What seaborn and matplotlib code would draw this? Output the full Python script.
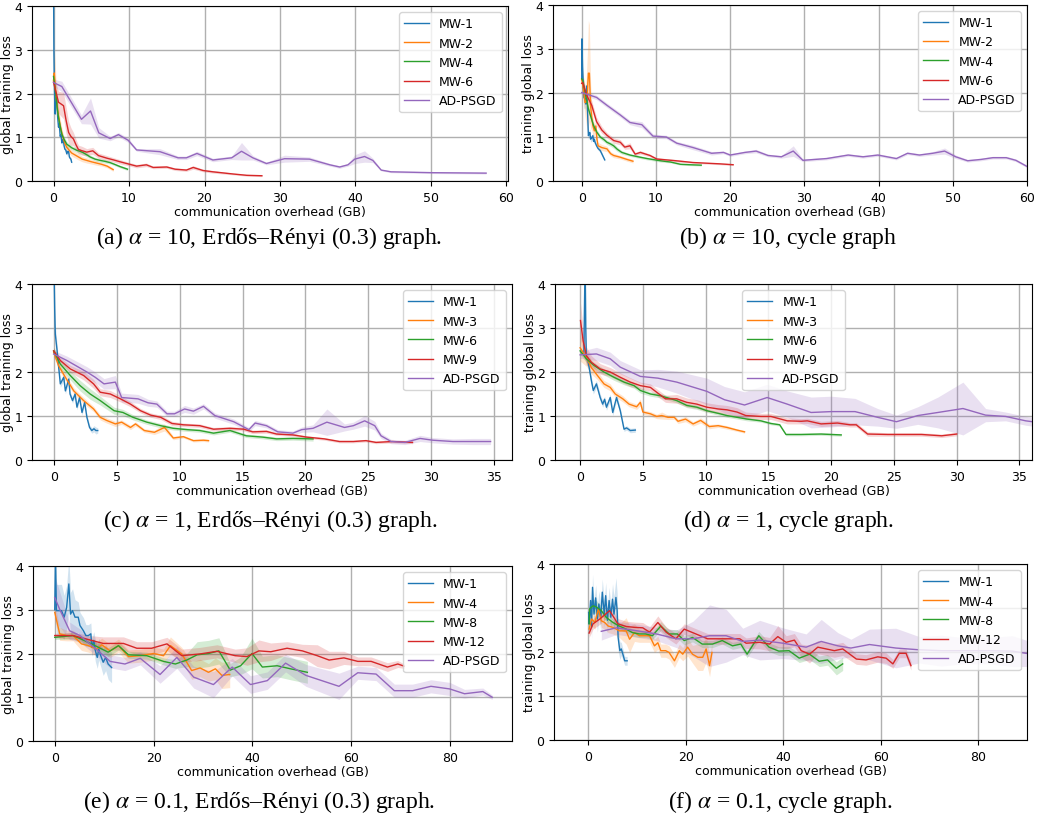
import numpy as np
import pandas as pd
import matplotlib
matplotlib.use("Agg")
import matplotlib.pyplot as plt
import seaborn as sns

# (a) alpha=10, Erdos-Renyi
a_mw1_x = [0, 0.02, 0.05, 0.1, 0.15, 0.22, 0.3, 0.44, 0.55, 0.66, 0.77, 0.88, 1.0, 1.1, 1.2, 1.3, 1.4, 1.5, 1.65, 1.76, 1.9, 2.0, 2.1, 2.2, 2.3, 2.4]
a_mw1_y = [5.5, 4.0, 3.0, 2.3, 1.9, 1.53, 1.9, 1.83, 1.45, 1.23, 1.3, 1.02, 1.05, 0.87, 0.92, 0.96, 0.8, 0.73, 0.7, 0.62, 0.68, 0.67, 0.55, 0.52, 0.5, 0.43]
a_mw1_sd = [0.3, 0.3, 0.25, 0.2, 0.15, 0.12, 0.12, 0.1, 0.1, 0.08, 0.08, 0.07, 0.07, 0.06, 0.06, 0.06, 0.05, 0.05, 0.05, 0.05, 0.04, 0.04, 0.04, 0.04, 0.04, 0.04]
a_mw2_x = [0, 0.1, 0.22, 0.35, 0.53, 0.7, 0.88, 1.1, 1.3, 1.5, 1.76, 2.1, 2.4, 2.8, 3.3, 3.8, 4.4, 5.0, 5.7, 6.4, 7.1, 7.5, 7.9]
a_mw2_y = [2.3, 2.47, 2.18, 1.9, 1.66, 1.45, 1.27, 1.1, 0.96, 0.86, 0.77, 0.7, 0.64, 0.6, 0.55, 0.5, 0.47, 0.44, 0.41, 0.38, 0.34, 0.3, 0.26]
a_mw2_sd = [0.3, 0.55, 0.5, 0.35, 0.25, 0.2, 0.15, 0.12, 0.1, 0.1, 0.08, 0.08, 0.07, 0.07, 0.07, 0.06, 0.06, 0.05, 0.05, 0.04, 0.04, 0.04, 0.04]
a_mw4_x = [0, 0.15, 0.35, 0.5, 0.66, 0.88, 1.1, 1.4, 1.76, 2.1, 2.4, 2.75, 3.1, 3.5, 3.9, 4.4, 4.85, 5.5, 6.2, 6.8, 7.5, 8.1, 8.8, 9.3, 9.8]
a_mw4_y = [2.39, 2.2, 1.9, 1.65, 1.45, 1.25, 1.07, 0.95, 0.84, 0.8, 0.76, 0.73, 0.7, 0.68, 0.65, 0.6, 0.55, 0.5, 0.47, 0.45, 0.42, 0.38, 0.33, 0.3, 0.27]
a_mw4_sd = [0.12, 0.12, 0.12, 0.1, 0.1, 0.08, 0.07, 0.06, 0.06, 0.05, 0.05, 0.05, 0.05, 0.05, 0.05, 0.05, 0.04, 0.04, 0.04, 0.04, 0.03, 0.03, 0.03, 0.03, 0.03]
a_mw6_x = [0, 0.3, 0.66, 1.0, 1.33, 1.65, 2.0, 2.3, 2.64, 3.0, 3.3, 3.8, 4.4, 5.2, 5.96, 7.1, 8.0, 8.8, 9.9, 11.0, 12.3, 13.2, 15.0, 16.1, 17.6, 18.5, 19.8, 21.1, 23.8, 25.6, 27.6]
a_mw6_y = [2.26, 2.05, 1.80, 1.76, 1.72, 1.4, 1.11, 1.02, 0.96, 0.82, 0.72, 0.69, 0.66, 0.69, 0.58, 0.52, 0.48, 0.44, 0.39, 0.34, 0.37, 0.31, 0.32, 0.27, 0.25, 0.31, 0.24, 0.21, 0.16, 0.13, 0.12]
a_mw6_sd = [0.15, 0.2, 0.25, 0.28, 0.3, 0.3, 0.25, 0.2, 0.15, 0.12, 0.1, 0.1, 0.08, 0.08, 0.06, 0.06, 0.05, 0.05, 0.04, 0.04, 0.04, 0.03, 0.03, 0.03, 0.03, 0.04, 0.03, 0.03, 0.02, 0.02, 0.02]
a_ad_x = [0, 1.1, 3.7, 4.9, 6.0, 7.5, 8.6, 9.9, 11.0, 14.1, 16.5, 17.6, 19.0, 21.1, 23.6, 24.9, 26.4, 28.2, 30.6, 33.9, 36.6, 37.9, 39.0, 39.9, 41.2, 42.3, 43.4, 44.7, 50.2, 57.3]
a_ad_y = [2.25, 2.16, 1.41, 1.6, 1.1, 0.97, 1.06, 0.93, 0.71, 0.67, 0.53, 0.53, 0.63, 0.48, 0.53, 0.68, 0.53, 0.40, 0.51, 0.50, 0.37, 0.32, 0.37, 0.50, 0.56, 0.47, 0.25, 0.21, 0.19, 0.18]
a_ad_sd = [0.08, 0.12, 0.1, 0.3, 0.12, 0.05, 0.05, 0.05, 0.03, 0.07, 0.04, 0.04, 0.05, 0.04, 0.04, 0.2, 0.05, 0.03, 0.08, 0.05, 0.03, 0.03, 0.03, 0.1, 0.13, 0.05, 0.02, 0.02, 0.02, 0.02]

# (b) alpha=10, cycle
b_mw1_x = [0, 0.03, 0.1, 0.2, 0.3, 0.45, 0.55, 0.67, 0.8, 0.9, 1.0, 1.1, 1.2, 1.35, 1.5, 1.6, 1.7, 1.8, 1.9, 2.0, 2.2, 2.5, 2.7, 2.9, 3.1]
b_mw1_y = [2.3, 3.23, 2.6, 2.2, 1.9, 1.86, 1.75, 2.16, 1.5, 1.03, 1.08, 1.1, 0.95, 0.98, 1.03, 0.9, 0.95, 0.88, 0.84, 0.80, 0.74, 0.69, 0.62, 0.55, 0.48]
b_mw1_sd = [0.1, 0.3, 0.4, 0.3, 0.25, 0.2, 0.15, 0.15, 0.12, 0.1, 0.08, 0.08, 0.07, 0.07, 0.07, 0.06, 0.06, 0.05, 0.05, 0.05, 0.04, 0.04, 0.04, 0.03, 0.03]
b_mw2_x = [0, 0.13, 0.3, 0.45, 0.6, 0.76, 0.9, 1.03, 1.2, 1.35, 1.5, 1.7, 1.9, 2.05, 2.2, 2.7, 3.4, 3.9, 4.3, 5.2, 6.1, 6.9]
b_mw2_y = [2.3, 2.2, 2.0, 1.78, 1.8, 2.0, 2.45, 2.45, 1.7, 1.45, 1.26, 1.14, 1.25, 0.95, 0.80, 0.76, 0.73, 0.62, 0.58, 0.54, 0.49, 0.45]
b_mw2_sd = [0.2, 0.3, 0.3, 0.3, 0.5, 0.9, 1.2, 1.1, 0.5, 0.3, 0.2, 0.15, 0.12, 0.1, 0.08, 0.07, 0.06, 0.05, 0.05, 0.04, 0.04, 0.04]
b_mw4_x = [0, 0.13, 0.45, 0.9, 1.3, 1.6, 2.0, 2.5, 3.0, 3.4, 3.9, 4.3, 4.8, 5.4, 6.5, 7.6, 8.8, 10.6, 12.0, 13.3, 14.5, 16.1]
b_mw4_y = [2.32, 2.3, 2.02, 1.64, 1.42, 1.26, 1.12, 1.0, 0.94, 0.88, 0.84, 0.80, 0.72, 0.65, 0.59, 0.55, 0.51, 0.46, 0.43, 0.38, 0.37, 0.36]
b_mw4_sd = [0.1, 0.1, 0.08, 0.08, 0.07, 0.06, 0.06, 0.05, 0.05, 0.05, 0.05, 0.06, 0.05, 0.04, 0.03, 0.03, 0.03, 0.03, 0.02, 0.02, 0.02, 0.02]
b_mw6_x = [0, 0.13, 0.67, 1.35, 2.0, 2.7, 3.4, 4.3, 5.2, 5.8, 6.5, 7.2, 7.9, 9.2, 10.1, 12.7, 15.0, 18.6, 20.4]
b_mw6_y = [2.22, 2.24, 1.95, 1.72, 1.35, 1.16, 1.04, 0.92, 0.88, 0.77, 0.80, 0.61, 0.65, 0.58, 0.50, 0.46, 0.42, 0.39, 0.37]
b_mw6_sd = [0.12, 0.12, 0.12, 0.1, 0.1, 0.08, 0.06, 0.06, 0.06, 0.05, 0.07, 0.04, 0.04, 0.03, 0.03, 0.03, 0.02, 0.02, 0.02]
b_ad_x = [0, 2.0, 3.4, 5.2, 6.5, 8.1, 9.6, 11.4, 12.8, 15.0, 17.5, 19.1, 20.0, 22.0, 23.5, 25.1, 26.9, 28.5, 29.8, 33.0, 35.9, 37.9, 39.9, 42.4, 43.9, 45.5, 47.3, 48.9, 50.4, 52.0, 53.8, 55.4, 57.2, 58.5, 59.9, 60.8]
b_ad_y = [2.01, 1.90, 1.72, 1.50, 1.33, 1.28, 1.02, 1.0, 0.86, 0.76, 0.63, 0.65, 0.59, 0.65, 0.68, 0.58, 0.55, 0.68, 0.47, 0.51, 0.59, 0.55, 0.59, 0.51, 0.63, 0.59, 0.63, 0.68, 0.55, 0.46, 0.49, 0.53, 0.53, 0.47, 0.34, 0.27]
b_ad_sd = [0.05, 0.05, 0.05, 0.05, 0.05, 0.07, 0.05, 0.04, 0.04, 0.05, 0.04, 0.03, 0.03, 0.03, 0.04, 0.03, 0.03, 0.12, 0.03, 0.03, 0.03, 0.03, 0.03, 0.03, 0.03, 0.03, 0.04, 0.07, 0.04, 0.03, 0.03, 0.03, 0.03, 0.03, 0.03, 0.03]

# (c) alpha=1, Erdos-Renyi
c_mw1_x = [0, 0.04, 0.08, 0.13, 0.26, 0.4, 0.53, 0.8, 0.93, 1.2, 1.3, 1.5, 1.7, 1.85, 2.06, 2.25, 2.46, 2.64, 2.85, 3.03, 3.2, 3.35, 3.5]
c_mw1_y = [5.0, 4.2, 3.43, 2.86, 2.52, 2.1, 1.73, 1.88, 1.57, 1.84, 1.5, 1.35, 1.5, 1.2, 1.42, 1.08, 1.31, 0.97, 0.74, 0.67, 0.71, 0.67, 0.67]
c_mw1_sd = [0.3, 0.3, 0.3, 0.2, 0.15, 0.1, 0.08, 0.07, 0.07, 0.07, 0.07, 0.06, 0.06, 0.06, 0.06, 0.06, 0.06, 0.06, 0.06, 0.06, 0.07, 0.08, 0.06]
c_mw3_x = [0, 0.4, 0.93, 1.6, 2.38, 3.17, 3.7, 4.2, 4.9, 5.4, 6.1, 6.5, 7.2, 8.0, 8.8, 9.5, 10.3, 11.1, 11.9, 12.3]
c_mw3_y = [2.45, 2.14, 1.88, 1.57, 1.35, 1.16, 0.97, 0.9, 0.82, 0.86, 0.74, 0.82, 0.67, 0.63, 0.74, 0.50, 0.53, 0.44, 0.45, 0.44]
c_mw3_sd = [0.1, 0.08, 0.08, 0.07, 0.07, 0.06, 0.06, 0.06, 0.06, 0.05, 0.05, 0.05, 0.04, 0.05, 0.08, 0.04, 0.03, 0.03, 0.03, 0.03]
c_mw6_x = [0, 0.53, 1.32, 2.1, 2.9, 3.7, 4.8, 5.5, 6.3, 7.4, 8.5, 9.5, 10.6, 11.6, 12.7, 14.0, 15.3, 16.6, 17.7, 19.0, 20.6]
c_mw6_y = [2.48, 2.18, 1.92, 1.69, 1.50, 1.35, 1.12, 1.08, 0.97, 0.86, 0.78, 0.72, 0.69, 0.67, 0.61, 0.67, 0.55, 0.52, 0.48, 0.49, 0.48]
c_mw6_sd = [0.08, 0.1, 0.1, 0.12, 0.12, 0.1, 0.08, 0.07, 0.06, 0.05, 0.05, 0.04, 0.04, 0.04, 0.04, 0.04, 0.04, 0.04, 0.04, 0.04, 0.05]
c_mw9_x = [0, 0.53, 1.32, 2.38, 3.17, 3.7, 4.5, 5.3, 6.1, 6.9, 7.7, 8.5, 9.4, 10.3, 11.6, 12.7, 14.0, 15.1, 15.8, 16.9, 17.7, 19.0, 20.1, 21.5, 22.7, 23.8, 24.8, 25.6, 26.9, 28.5]
c_mw9_y = [2.48, 2.26, 2.07, 1.92, 1.73, 1.54, 1.50, 1.39, 1.27, 1.12, 1.02, 0.97, 0.83, 0.80, 0.78, 0.70, 0.72, 0.70, 0.64, 0.65, 0.59, 0.57, 0.52, 0.48, 0.42, 0.42, 0.44, 0.40, 0.42, 0.40]
c_mw9_sd = [0.06, 0.07, 0.08, 0.1, 0.1, 0.08, 0.08, 0.07, 0.06, 0.05, 0.05, 0.05, 0.05, 0.04, 0.04, 0.04, 0.04, 0.04, 0.04, 0.04, 0.03, 0.03, 0.03, 0.03, 0.03, 0.03, 0.03, 0.03, 0.03, 0.03]
c_ad_x = [0, 1.06, 2.64, 3.3, 4.0, 4.9, 5.4, 6.7, 7.5, 8.2, 9.0, 9.6, 10.4, 11.1, 11.9, 12.8, 14.3, 15.5, 16.0, 16.9, 17.8, 19.0, 19.7, 20.6, 21.7, 23.1, 23.8, 24.7, 25.5, 26.0, 26.8, 27.9, 29.1, 30.1, 31.7, 33.3, 34.7]
c_ad_y = [2.41, 2.26, 2.0, 1.88, 1.73, 1.77, 1.42, 1.39, 1.30, 1.27, 1.05, 1.05, 1.16, 1.11, 1.22, 1.01, 0.87, 0.69, 0.84, 0.78, 0.64, 0.61, 0.69, 0.72, 0.86, 0.74, 0.78, 0.89, 0.78, 0.55, 0.42, 0.40, 0.49, 0.45, 0.42, 0.42, 0.42]
c_ad_sd = [0.08, 0.1, 0.12, 0.12, 0.12, 0.15, 0.1, 0.1, 0.08, 0.07, 0.06, 0.06, 0.08, 0.07, 0.06, 0.06, 0.06, 0.05, 0.06, 0.05, 0.05, 0.05, 0.06, 0.08, 0.3, 0.08, 0.08, 0.12, 0.1, 0.06, 0.05, 0.05, 0.07, 0.06, 0.06, 0.07, 0.07]

# (d) alpha=1, cycle
d_mw1_x = [0.3, 0.4, 0.45, 0.5, 0.63, 0.9, 1.05, 1.3, 1.6, 1.8, 1.95, 2.1, 2.4, 2.6, 2.9, 3.2, 3.5, 3.7, 4.0, 4.4]
d_mw1_y = [2.45, 4.6, 3.0, 2.3, 2.25, 1.8, 1.58, 1.73, 1.42, 1.27, 1.38, 1.2, 1.42, 1.08, 1.42, 1.12, 0.70, 0.73, 0.67, 0.68]
d_mw1_sd = [0.2, 0.4, 0.3, 0.15, 0.12, 0.1, 0.08, 0.08, 0.08, 0.07, 0.07, 0.07, 0.08, 0.07, 0.08, 0.07, 0.05, 0.05, 0.05, 0.05]
d_mw3_x = [0, 0.5, 0.9, 1.3, 1.9, 2.4, 2.8, 3.4, 3.9, 4.5, 4.8, 5.0, 5.6, 6.1, 6.5, 7.0, 7.5, 7.8, 8.4, 9.0, 9.6, 10.3, 11.0, 11.7, 12.5, 13.1]
d_mw3_y = [2.55, 2.33, 2.1, 1.95, 1.73, 1.65, 1.50, 1.39, 1.27, 1.21, 1.31, 1.09, 1.05, 0.99, 1.01, 0.97, 0.97, 0.88, 0.93, 0.82, 0.90, 0.76, 0.78, 0.74, 0.68, 0.64]
d_mw3_sd = [0.3, 0.2, 0.15, 0.1, 0.08, 0.08, 0.07, 0.07, 0.06, 0.06, 0.08, 0.05, 0.05, 0.05, 0.08, 0.05, 0.05, 0.05, 0.06, 0.05, 0.06, 0.05, 0.04, 0.04, 0.03, 0.03]
d_mw6_x = [0, 0.5, 1.1, 1.9, 2.7, 3.5, 4.3, 4.8, 5.6, 6.4, 7.0, 7.7, 8.5, 9.3, 10.1, 11.0, 11.7, 12.5, 13.3, 14.4, 15.2, 15.9, 16.4, 17.6, 19.2, 20.8]
d_mw6_y = [2.48, 2.3, 2.15, 2.0, 1.88, 1.77, 1.69, 1.58, 1.50, 1.46, 1.41, 1.35, 1.24, 1.20, 1.12, 1.06, 1.01, 0.97, 0.93, 0.89, 0.83, 0.80, 0.58, 0.58, 0.59, 0.57]
d_mw6_sd = [0.08, 0.08, 0.07, 0.07, 0.07, 0.06, 0.06, 0.06, 0.05, 0.05, 0.05, 0.05, 0.05, 0.05, 0.04, 0.04, 0.04, 0.04, 0.04, 0.03, 0.03, 0.03, 0.03, 0.03, 0.03, 0.03]
d_mw9_x = [0.03, 0.24, 0.5, 0.9, 1.6, 2.4, 3.2, 4.0, 4.8, 5.6, 6.1, 6.8, 7.7, 8.5, 9.3, 10.1, 11.0, 11.7, 12.5, 13.2, 14.4, 15.2, 16.5, 17.6, 18.1, 19.2, 20.5, 21.5, 22.0, 22.9, 24.5, 27.2, 28.8, 30.0]
d_mw9_y = [3.17, 2.71, 2.37, 2.22, 2.07, 2.0, 1.88, 1.77, 1.69, 1.65, 1.54, 1.39, 1.39, 1.31, 1.27, 1.20, 1.16, 1.14, 1.09, 1.01, 0.99, 0.99, 0.89, 0.88, 0.89, 0.82, 0.84, 0.80, 0.80, 0.59, 0.58, 0.58, 0.55, 0.59]
d_mw9_sd = [0.4, 0.3, 0.2, 0.15, 0.12, 0.1, 0.1, 0.1, 0.08, 0.08, 0.08, 0.08, 0.1, 0.1, 0.1, 0.1, 0.1, 0.1, 0.1, 0.08, 0.07, 0.07, 0.07, 0.06, 0.06, 0.06, 0.06, 0.05, 0.05, 0.05, 0.04, 0.04, 0.04, 0.04]
d_ad_x = [0, 1.3, 2.4, 3.2, 4.8, 6.2, 7.7, 10.1, 11.5, 13.1, 14.9, 16.5, 18.4, 20.0, 21.9, 23.7, 25.2, 26.9, 28.5, 30.5, 32.3, 33.9, 35.5, 36.3]
d_ad_y = [2.39, 2.41, 2.30, 2.11, 1.90, 1.86, 1.77, 1.56, 1.37, 1.25, 1.42, 1.27, 1.08, 1.10, 1.10, 0.97, 0.87, 1.01, 1.08, 1.17, 1.02, 0.99, 0.89, 0.86]
d_ad_sd = [0.08, 0.15, 0.15, 0.15, 0.15, 0.2, 0.25, 0.3, 0.3, 0.3, 0.3, 0.3, 0.35, 0.35, 0.3, 0.2, 0.15, 0.2, 0.35, 0.6, 0.15, 0.1, 0.1, 0.1]

# (e) alpha=0.1, Erdos-Renyi
e_mw1_x = [0, 0.14, 0.34, 1.36, 1.9, 2.4, 2.85, 3.2, 3.6, 4.1, 4.75, 5.1, 5.8, 6.3, 6.8, 7.3, 7.5, 7.9, 8.2, 8.6, 8.9, 9.3, 9.8, 10.3, 10.8, 11.5]
e_mw1_y = [3.0, 4.2, 2.98, 2.98, 2.83, 3.05, 3.59, 2.90, 2.98, 2.83, 2.83, 2.64, 2.52, 2.41, 2.41, 2.45, 2.14, 2.30, 2.07, 1.91, 2.10, 1.95, 1.80, 1.91, 1.76, 1.68]
e_mw1_sd = [0.6, 0.6, 0.6, 0.6, 0.5, 0.5, 0.6, 0.5, 0.5, 0.4, 0.35, 0.3, 0.3, 0.25, 0.25, 0.25, 0.2, 0.2, 0.25, 0.25, 0.25, 0.25, 0.3, 0.3, 0.35, 0.35]
e_mw4_x = [0, 1.0, 2.4, 3.7, 5.4, 6.8, 8.5, 9.5, 11.2, 12.9, 14.9, 17.3, 20.0, 22.0, 23.4, 25.7, 27.7, 29.4, 31.1, 32.5, 33.8, 35.4]
e_mw4_y = [2.94, 2.45, 2.41, 2.41, 2.22, 2.18, 2.10, 2.20, 2.06, 2.18, 1.93, 1.95, 2.00, 1.95, 2.18, 1.99, 1.61, 1.67, 1.57, 1.65, 1.50, 1.52]
e_mw4_sd = [0.2, 0.15, 0.12, 0.12, 0.15, 0.15, 0.15, 0.15, 0.15, 0.15, 0.15, 0.15, 0.15, 0.15, 0.2, 0.15, 0.2, 0.2, 0.2, 0.25, 0.3, 0.3]
e_mw8_x = [0, 3.7, 6.1, 8.5, 10.8, 12.9, 14.9, 18.6, 22.0, 24.4, 26.7, 28.8, 31.1, 33.2, 35.5, 37.6, 39.9, 42.0, 45.0, 47.7, 51.1]
e_mw8_y = [2.37, 2.41, 2.29, 2.16, 2.03, 2.18, 1.97, 1.95, 1.82, 1.76, 1.85, 1.97, 2.0, 2.06, 1.62, 1.72, 2.0, 1.69, 1.72, 1.65, 1.57]
e_mw8_sd = [0.05, 0.08, 0.08, 0.1, 0.1, 0.1, 0.08, 0.08, 0.08, 0.1, 0.15, 0.3, 0.3, 0.3, 0.15, 0.2, 0.35, 0.25, 0.25, 0.25, 0.25]
e_mw12_x = [0, 3.7, 7.1, 9.8, 13.9, 16.6, 19.6, 22.7, 25.7, 29.4, 32.8, 36.5, 38.9, 41.3, 43.7, 47.0, 50.1, 53.1, 55.5, 58.5, 61.3, 64.0, 67.3, 69.4, 70.7]
e_mw12_y = [2.41, 2.41, 2.31, 2.23, 2.23, 2.12, 2.12, 2.22, 1.95, 1.99, 2.05, 1.95, 1.93, 2.06, 2.04, 2.12, 2.06, 1.95, 1.85, 1.90, 1.82, 1.82, 1.69, 1.76, 1.71]
e_mw12_sd = [0.05, 0.08, 0.1, 0.15, 0.15, 0.15, 0.15, 0.15, 0.15, 0.15, 0.15, 0.15, 0.2, 0.25, 0.2, 0.15, 0.15, 0.25, 0.2, 0.15, 0.1, 0.1, 0.1, 0.08, 0.05]
e_ad_x = [0, 1.0, 3.0, 5.1, 7.1, 9.1, 11.2, 14.2, 17.3, 21.3, 24.7, 28.1, 32.1, 35.9, 39.6, 43.0, 46.7, 50.8, 57.5, 61.3, 65.0, 68.7, 72.4, 76.1, 79.9, 82.9, 86.6, 88.5]
e_ad_y = [3.28, 3.01, 2.52, 2.41, 2.22, 2.03, 1.82, 1.76, 1.89, 1.52, 1.91, 1.46, 1.29, 1.69, 1.29, 1.38, 1.78, 1.50, 1.25, 1.56, 1.53, 1.15, 1.15, 1.25, 1.19, 1.08, 1.13, 1.00]
e_ad_sd = [0.5, 0.4, 0.2, 0.15, 0.15, 0.15, 0.15, 0.15, 0.15, 0.2, 0.25, 0.25, 0.3, 0.2, 0.2, 0.2, 0.2, 0.25, 0.3, 0.15, 0.15, 0.15, 0.15, 0.15, 0.15, 0.1, 0.08, 0.05]

# (f) alpha=0.1, cycle
f_mw1_x = [0.1, 0.2, 0.5, 0.7, 0.9, 1.2, 1.55, 1.9, 2.2, 2.6, 2.9, 3.3, 3.6, 3.95, 4.3, 4.65, 5.0, 5.3, 5.7, 5.95, 6.15, 6.5, 6.8, 7.2, 7.5, 8.0]
f_mw1_y = [2.9, 2.64, 3.17, 2.56, 3.47, 2.86, 3.23, 2.75, 3.09, 2.79, 3.36, 2.86, 3.28, 2.72, 3.17, 2.79, 3.2, 2.86, 3.24, 2.94, 2.33, 2.03, 2.07, 1.92, 1.80, 1.80]
f_mw1_sd = [0.2, 0.2, 0.25, 0.25, 0.3, 0.3, 0.3, 0.3, 0.3, 0.3, 0.3, 0.3, 0.3, 0.3, 0.3, 0.3, 0.35, 0.4, 0.45, 0.4, 0.3, 0.2, 0.15, 0.12, 0.1, 0.1]
f_mw4_x = [0.2, 0.7, 1.4, 2.1, 2.7, 3.4, 4.1, 5.1, 6.4, 7.8, 8.5, 9.5, 10.5, 11.5, 12.6, 13.6, 14.3, 14.9, 15.9, 16.6, 17.7, 18.7, 19.4, 20.4, 21.4, 22.5, 23.5, 24.2, 24.9, 25.4]
f_mw4_y = [2.52, 2.75, 2.67, 2.98, 2.71, 2.67, 2.59, 2.56, 2.48, 2.48, 2.29, 2.44, 2.37, 2.37, 2.37, 2.14, 2.21, 2.03, 2.03, 1.99, 1.80, 2.03, 1.95, 2.11, 1.95, 1.88, 1.88, 2.07, 1.69, 1.99]
f_mw4_sd = [0.15, 0.15, 0.15, 0.15, 0.15, 0.15, 0.15, 0.15, 0.15, 0.3, 0.3, 0.2, 0.15, 0.15, 0.15, 0.15, 0.15, 0.15, 0.15, 0.15, 0.15, 0.15, 0.15, 0.2, 0.2, 0.3, 0.3, 0.3, 0.25, 0.2]
f_mw8_x = [0.2, 0.3, 1.0, 1.7, 2.7, 3.7, 5.1, 6.4, 7.8, 9.1, 10.5, 11.8, 13.2, 14.9, 16.6, 18.3, 19.7, 21.4, 23.4, 25.5, 27.5, 29.6, 31.3, 32.6, 35.0, 37.1, 39.1, 41.2, 43.3, 45.4, 47.4, 49.1, 50.9, 52.2]
f_mw8_y = [2.64, 2.98, 3.05, 3.02, 2.94, 2.79, 2.67, 2.59, 2.52, 2.44, 2.41, 2.41, 2.37, 2.59, 2.41, 2.41, 2.26, 2.33, 2.18, 2.18, 2.26, 2.14, 2.18, 1.95, 2.37, 2.11, 2.02, 2.03, 1.86, 1.95, 1.79, 1.82, 1.63, 1.73]
f_mw8_sd = [0.1, 0.15, 0.15, 0.15, 0.1, 0.1, 0.08, 0.08, 0.08, 0.08, 0.08, 0.08, 0.08, 0.1, 0.1, 0.1, 0.1, 0.1, 0.08, 0.08, 0.08, 0.08, 0.08, 0.08, 0.1, 0.1, 0.1, 0.1, 0.1, 0.12, 0.12, 0.12, 0.15, 0.15]
f_mw12_x = [0.2, 1.0, 2.4, 4.4, 6.1, 7.8, 9.5, 11.2, 12.6, 14.3, 16.0, 18.0, 19.7, 22.1, 24.5, 27.0, 31.1, 32.4, 35.2, 37.2, 38.9, 40.6, 42.3, 43.7, 45.4, 47.1, 48.8, 50.5, 52.2, 55.0, 57.0, 59.4, 61.1, 62.5, 63.8, 65.2, 66.2]
f_mw12_y = [2.43, 2.64, 2.75, 2.94, 2.64, 2.58, 2.56, 2.55, 2.45, 2.67, 2.45, 2.30, 2.52, 2.41, 2.30, 2.30, 2.30, 2.20, 2.22, 2.18, 2.35, 2.22, 2.27, 2.03, 1.95, 2.11, 2.07, 2.03, 2.07, 1.84, 1.82, 1.89, 1.86, 1.73, 1.97, 1.97, 1.69]
f_mw12_sd = [0.1, 0.12, 0.12, 0.12, 0.12, 0.12, 0.12, 0.12, 0.12, 0.15, 0.12, 0.12, 0.12, 0.12, 0.12, 0.12, 0.12, 0.12, 0.15, 0.15, 0.25, 0.15, 0.15, 0.15, 0.2, 0.15, 0.15, 0.15, 0.15, 0.12, 0.12, 0.12, 0.12, 0.1, 0.1, 0.1, 0.1]
f_ad_x = [2.7, 5.8, 9.6, 14.0, 18.1, 21.5, 24.9, 28.3, 31.7, 35.2, 39.9, 44.7, 47.8, 51.2, 53.9, 57.7, 63.1, 67.9, 72.4, 76.8, 82.3, 87.0, 89.8, 91.0]
f_ad_y = [2.47, 2.55, 2.49, 2.41, 2.30, 2.30, 2.37, 2.37, 2.24, 2.27, 2.20, 2.11, 2.24, 2.14, 2.09, 2.17, 2.09, 2.05, 2.03, 2.03, 2.03, 2.02, 1.97, 1.95]
f_ad_sd = [0.2, 0.15, 0.15, 0.15, 0.2, 0.4, 0.7, 0.6, 0.3, 0.45, 0.35, 0.3, 0.5, 0.3, 0.2, 0.35, 0.45, 0.3, 0.35, 0.3, 0.3, 0.35, 0.3, 0.3]

labels_ab = ["MW-1", "MW-2", "MW-4", "MW-6", "AD-PSGD"]
labels_cd = ["MW-1", "MW-3", "MW-6", "MW-9", "AD-PSGD"]
labels_ef = ["MW-1", "MW-4", "MW-8", "MW-12", "AD-PSGD"]

captions = [
    r"(a) $\alpha$ = 10, Erdős–Rényi (0.3) graph.",
    r"(b) $\alpha$ = 10, cycle graph",
    r"(c) $\alpha$ = 1, Erdős–Rényi (0.3) graph.",
    r"(d) $\alpha$ = 1, cycle graph.",
    r"(e) $\alpha$ = 0.1, Erdős–Rényi (0.3) graph.",
    r"(f) $\alpha$ = 0.1, cycle graph.",
]

colors = sns.color_palette("tab10")
colors = [colors[0], colors[1], colors[2], colors[3], colors[4]]

plt.rcParams["mathtext.fontset"] = "stix"

W, H = 1047, 820
fig = plt.figure(figsize=(W / 100, H / 100), dpi=100)


def add_ax(l, r, t, b):
    return fig.add_axes([l / W, 1 - b / H, (r - l) / W, (b - t) / H])


def panel(ax, series, labels, xlim, xticks, ylabel, loc):
    for (x, y, sd), lab, col in zip(series, labels, colors):
        df = pd.DataFrame({"x": x, "y": y, "sd": sd})
        ax.fill_between(df["x"], df["y"] - df["sd"], df["y"] + df["sd"],
                        color=col, alpha=0.2, lw=0)
        sns.lineplot(data=df, x="x", y="y", ax=ax, color=col, lw=1.0,
                     label=lab, sort=False, estimator=None)
    ax.set_xlim(*xlim)
    ax.set_ylim(0, 4)
    ax.set_xticks(xticks)
    ax.set_yticks([0, 1, 2, 3, 4])
    ax.grid(True, color="#b0b0b0", lw=1.0)
    ax.set_axisbelow(True)
    ax.tick_params(labelsize=9)
    ax.set_xlabel("communication overhead (GB)", fontsize=9, labelpad=1)
    ax.set_ylabel(ylabel, fontsize=9, labelpad=0)
    ax.legend(loc=loc, fontsize=9)


ax_a = add_ax(32, 508, 7, 182)
panel(ax_a, [(a_mw1_x, a_mw1_y, a_mw1_sd), (a_mw2_x, a_mw2_y, a_mw2_sd),
             (a_mw4_x, a_mw4_y, a_mw4_sd), (a_mw6_x, a_mw6_y, a_mw6_sd),
             (a_ad_x, a_ad_y, a_ad_sd)],
      labels_ab, (-2.85, 60.2), range(0, 61, 10), "global training loss", "upper right")

ax_b = add_ax(553, 1027, 6, 182)
panel(ax_b, [(b_mw1_x, b_mw1_y, b_mw1_sd), (b_mw2_x, b_mw2_y, b_mw2_sd),
             (b_mw4_x, b_mw4_y, b_mw4_sd), (b_mw6_x, b_mw6_y, b_mw6_sd),
             (b_ad_x, b_ad_y, b_ad_sd)],
      labels_ab, (-3.87, 60), range(0, 61, 10), "training global loss", "upper right")

ax_c = add_ax(32, 512, 285, 461)
panel(ax_c, [(c_mw1_x, c_mw1_y, c_mw1_sd), (c_mw3_x, c_mw3_y, c_mw3_sd),
             (c_mw6_x, c_mw6_y, c_mw6_sd), (c_mw9_x, c_mw9_y, c_mw9_sd),
             (c_ad_x, c_ad_y, c_ad_sd)],
      labels_cd, (-1.72, 36.4), range(0, 36, 5), "global training loss", "upper right")

ax_d = add_ax(555, 1032, 285, 461)
panel(ax_d, [(d_mw1_x, d_mw1_y, d_mw1_sd), (d_mw3_x, d_mw3_y, d_mw3_sd),
             (d_mw6_x, d_mw6_y, d_mw6_sd), (d_mw9_x, d_mw9_y, d_mw9_sd),
             (d_ad_x, d_ad_y, d_ad_sd)],
      labels_cd, (-2.0, 36), range(0, 36, 5), "training global loss", "upper center")

ax_e = add_ax(33, 512, 567, 742)
panel(ax_e, [(e_mw1_x, e_mw1_y, e_mw1_sd), (e_mw4_x, e_mw4_y, e_mw4_sd),
             (e_mw8_x, e_mw8_y, e_mw8_sd), (e_mw12_x, e_mw12_y, e_mw12_sd),
             (e_ad_x, e_ad_y, e_ad_sd)],
      labels_ef, (-4.4, 92.5), range(0, 81, 20), "global training loss", "upper right")

ax_f = add_ax(554, 1027, 565, 741)
panel(ax_f, [(f_mw1_x, f_mw1_y, f_mw1_sd), (f_mw4_x, f_mw4_y, f_mw4_sd),
             (f_mw8_x, f_mw8_y, f_mw8_sd), (f_mw12_x, f_mw12_y, f_mw12_sd),
             (f_ad_x, f_ad_y, f_ad_sd)],
      labels_ef, (-7.0, 90), range(0, 81, 20), "training global loss", "upper right")

cap_pos = [(269, 238), (788, 238), (270, 521), (789, 521), (259, 802), (780, 802)]
for (cx, cy), txt in zip(cap_pos, captions):
    fig.text(cx / W, 1 - cy / H, txt, ha="center", va="center",
             fontsize=17, family="Liberation Serif")

fig.savefig("out.png", dpi=100)
